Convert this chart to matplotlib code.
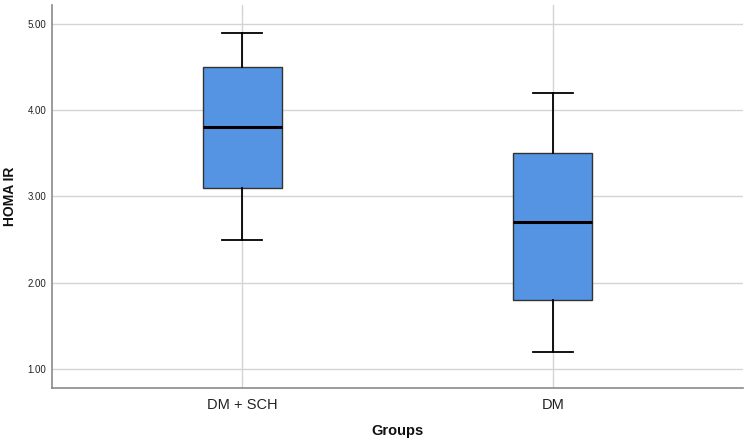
import matplotlib
matplotlib.use("Agg")
import matplotlib.pyplot as plt

plt.rcParams["font.family"] = ["Liberation Sans", "DejaVu Sans"]

groups = ["DM + SCH", "DM"]
whisker_low = [2.5, 1.2]
q1 = [3.1, 1.8]
median = [3.8, 2.7]
q3 = [4.5, 3.5]
whisker_high = [4.9, 4.2]
yticks = [1.0, 2.0, 3.0, 4.0, 5.0]

stats = []
for i, g in enumerate(groups):
    stats.append(dict(label=g, whislo=whisker_low[i], q1=q1[i], med=median[i],
                      q3=q3[i], whishi=whisker_high[i], fliers=[]))

fig = plt.figure(figsize=(7.5, 4.4), dpi=100)
ax = fig.add_axes([52/750, 1-388/440, (743-52)/750, (388-5)/440])

positions = list(range(len(groups)))
ax.bxp(stats, positions=positions, widths=0.254, patch_artist=True,
       showfliers=False,
       boxprops=dict(facecolor="#5594E3", edgecolor="#333333", linewidth=1.0),
       medianprops=dict(color="black", linewidth=2.2),
       whiskerprops=dict(color="black", linewidth=1.3),
       capprops=dict(color="black", linewidth=1.3),
       capwidths=0.127, zorder=3)

ax.set_xlim(-0.611, 1.611)
ax.set_ylim(0.78, 5.22)
ax.set_yticks(yticks)
ax.set_yticklabels([f"{v:.2f}" for v in yticks], fontsize=7, color="#222222")
ax.set_xticks(positions)
ax.set_xticklabels(groups, fontsize=10.5, color="#222222")
ax.tick_params(axis="both", length=0)
ax.tick_params(axis="y", pad=4)
ax.tick_params(axis="x", pad=7)

ax.grid(True, color="#d4d4d4", linewidth=1.0, zorder=0)
ax.set_axisbelow(True)
for s in ["top", "right"]:
    ax.spines[s].set_visible(False)
for s in ["left", "bottom"]:
    ax.spines[s].set_color("#8a8a8a")
    ax.spines[s].set_linewidth(1.2)

ax.set_ylabel("HOMA IR", fontsize=10, fontweight="bold", color="#111111")
ax.yaxis.label.set_verticalalignment("center")
ax.yaxis.set_label_coords((10-52)/691, 0.5)
ax.set_xlabel("Groups", fontsize=10.5, fontweight="bold", color="#111111")
ax.xaxis.label.set_verticalalignment("center")
ax.xaxis.set_label_coords(0.5, (388-431)/383)

fig.savefig("out.png", dpi=100)
